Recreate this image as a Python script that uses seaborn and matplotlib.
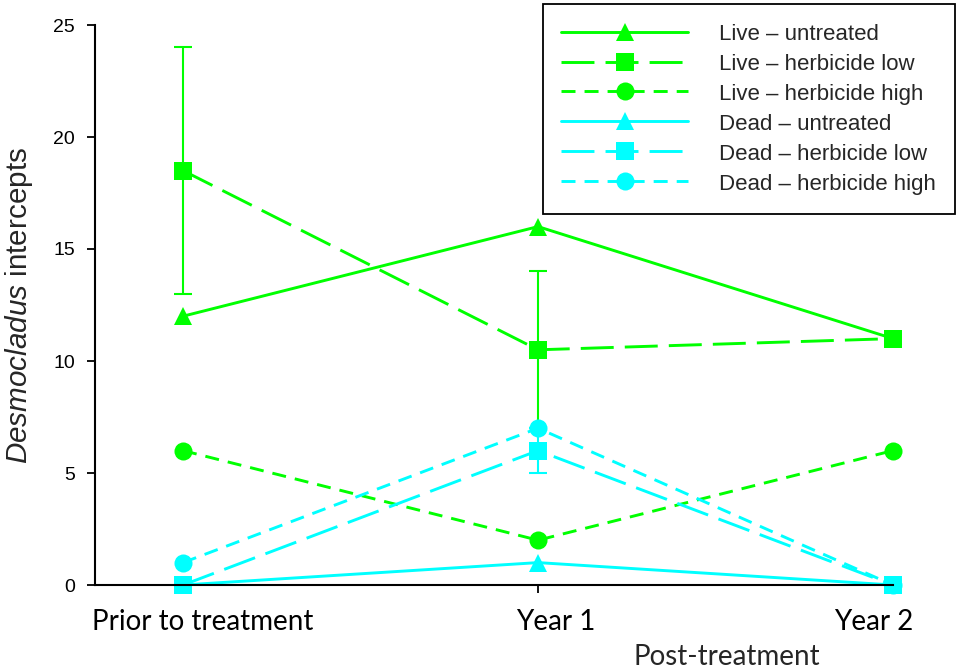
import pandas as pd
import seaborn as sns
import matplotlib.pyplot as plt
import matplotlib.transforms as mtransforms
from matplotlib.lines import Line2D

# Data
periods = ["Prior to treatment", "Year 1", "Year 2"]
series_names = [
    "Live \u2013 untreated",
    "Live \u2013 herbicide low",
    "Live \u2013 herbicide high",
    "Dead \u2013 untreated",
    "Dead \u2013 herbicide low",
    "Dead \u2013 herbicide high",
]
live_untreated = [12, 16, 11]
live_low = [18.5, 10.5, 11]
live_high = [6, 2, 6]
dead_untreated = [0, 1, 0]
dead_low = [0, 6, 0]
dead_high = [1, 7, 0]
live_low_err = [5.5, 3.5, 0]
dead_low_err = [0, 1, 0]

values = [live_untreated, live_low, live_high, dead_untreated, dead_low, dead_high]

rows = []
for name, vals in zip(series_names, values):
    for i, v in enumerate(vals):
        rows.append({"series": name, "x": i, "value": v})
df = pd.DataFrame(rows)

GREEN = "#00ff00"
CYAN = "#00ffff"
palette = dict(zip(series_names, [GREEN] * 3 + [CYAN] * 3))
long_dash = (11.3, 3.8)
short_dash = (4.8, 3.1)
dashes = dict(zip(series_names, ["", long_dash, short_dash] * 2))
markers = dict(zip(series_names, ["^", "s", "o"] * 2))

sns.set_style("ticks")
plt.rcParams["font.family"] = ["Liberation Sans", "DejaVu Sans"]
plt.rcParams["mathtext.fontset"] = "custom"
plt.rcParams["mathtext.it"] = "Liberation Sans:italic"
plt.rcParams["mathtext.rm"] = "Liberation Sans"

fig = plt.figure(figsize=(9.58, 6.69), dpi=100)
ax = fig.add_axes([95 / 958, 84 / 669, 798 / 958, 560 / 669])

# error bars (drawn first so markers sit on top)
ax.errorbar(range(3), live_low, yerr=live_low_err, fmt="none", ecolor=GREEN,
            elinewidth=1.5, capsize=6.5, capthick=1.5, zorder=1)
ax.errorbar(range(3), dead_low, yerr=dead_low_err, fmt="none", ecolor=CYAN,
            elinewidth=1.5, capsize=6.5, capthick=1.5, zorder=1)

sns.lineplot(data=df, x="x", y="value", hue="series", style="series",
             hue_order=series_names, style_order=series_names,
             palette=palette, dashes=dashes, markers=markers,
             markersize=13, markeredgewidth=0, linewidth=2.1,
             legend=False, ax=ax)
for ln in ax.get_lines():
    ln.set_clip_on(False)

ax.set_xlim(-0.248, 2.0)
ax.set_ylim(0, 25)
ax.set_xticks(range(3))
ax.set_xticklabels(periods, fontfamily="Lato", fontsize=20)
ax.set_yticks([0, 5, 10, 15, 20, 25])
ax.tick_params(axis="y", labelsize=14, length=6, width=1.3, pad=8.5, colors="black")
ax.tick_params(axis="x", length=6, width=1.3, pad=11, colors="black")

# the original places its category labels slightly off the tick marks
label_shift_px = [20, 18, -19]
for lab, dx in zip(ax.get_xticklabels(), label_shift_px):
    lab.set_transform(lab.get_transform() +
                      mtransforms.ScaledTranslation(dx / 100, 0, fig.dpi_scale_trans))

ax.set_xlabel("")
ax.set_ylabel(r"$\it{Desmocladus}$ intercepts", fontsize=21.3, labelpad=13)
sns.despine(ax=ax)
for s in ["left", "bottom"]:
    ax.spines[s].set_linewidth(1.5)
    ax.spines[s].set_color("black")

fig.text(727 / 958, 1 - 657 / 669, "Post-treatment", fontfamily="Lato",
         fontsize=20, ha="center", va="center")

handles = []
for name in series_names:
    d = dashes[name]
    h = Line2D([], [], color=palette[name], marker=markers[name], markersize=13,
               markeredgewidth=0, linewidth=2.1)
    if d:
        h.set_linestyle((0, d))
    handles.append(h)
leg = ax.legend(handles, series_names, loc="upper right",
                bbox_to_anchor=(955 / 958, 1 - 4 / 669), bbox_transform=fig.transFigure,
                borderaxespad=0, fontsize=16, handlelength=5.7, handletextpad=1.4,
                handleheight=1.0, labelspacing=0.33, borderpad=0.85, numpoints=1,
                frameon=True, fancybox=False, framealpha=1)
leg.get_frame().set_edgecolor("black")
leg.get_frame().set_linewidth(1.3)

fig.savefig("out.png", dpi=100)
plt.close(fig)
